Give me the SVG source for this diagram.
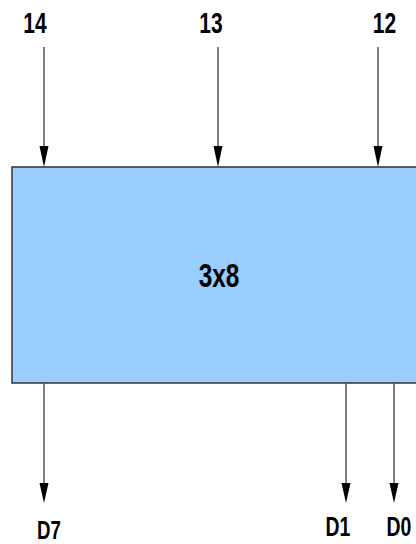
<svg xmlns="http://www.w3.org/2000/svg" width="416" height="544" viewBox="0 0 416 544">
  <style>
    .lbl { font-family: "Liberation Sans", Arial, sans-serif; font-weight: bold; fill: #000; text-anchor: middle; }
    .wire { stroke: #555; stroke-width: 1.5; fill: none; }
    .head { fill: #000; }
  </style>
  <rect width="416" height="544" fill="#fff"/>

  <!-- decoder block -->
  <g id="decoder">
    <rect x="12" y="167" width="420" height="216" fill="#99ccff" stroke="#333" stroke-width="1.5"/>
    <text class="lbl" font-size="33" transform="translate(219,287) scale(0.74,1)">3x8</text>
  </g>

  <!-- input labels -->
  <g id="in14"><text class="lbl" font-size="30" transform="translate(35,33) scale(0.7,1)">14</text></g>
  <g id="in13"><text class="lbl" font-size="30" transform="translate(211,33) scale(0.7,1)">13</text></g>
  <g id="in12"><text class="lbl" font-size="30" transform="translate(384.5,33) scale(0.7,1)">12</text></g>

  <!-- output labels -->
  <g id="outD7"><text class="lbl" font-size="26" transform="translate(49,539) scale(0.72,1)">D7</text></g>
  <g id="outD1"><text class="lbl" font-size="27" transform="translate(338,536) scale(0.72,1)">D1</text></g>
  <g id="outD0"><text class="lbl" font-size="27" transform="translate(399,536) scale(0.72,1)">D0</text></g>

  <!-- connectors -->
  <g id="connectors">
    <line class="wire" x1="44" y1="47" x2="44" y2="150"/>
    <polygon class="head" points="39.5,146 48.5,146 44,167"/>
    <line class="wire" x1="218" y1="47" x2="218" y2="150"/>
    <polygon class="head" points="213.5,146 222.5,146 218,167"/>
    <line class="wire" x1="378" y1="47" x2="378" y2="150"/>
    <polygon class="head" points="373.5,146 382.5,146 378,167"/>

    <line class="wire" x1="44" y1="383" x2="44" y2="487"/>
    <polygon class="head" points="39.5,483 48.5,483 44,503"/>
    <line class="wire" x1="346" y1="383" x2="346" y2="487"/>
    <polygon class="head" points="341.5,483 350.5,483 346,503"/>
    <line class="wire" x1="394" y1="383" x2="394" y2="487"/>
    <polygon class="head" points="389.5,483 398.5,483 394,503"/>
  </g>
</svg>
